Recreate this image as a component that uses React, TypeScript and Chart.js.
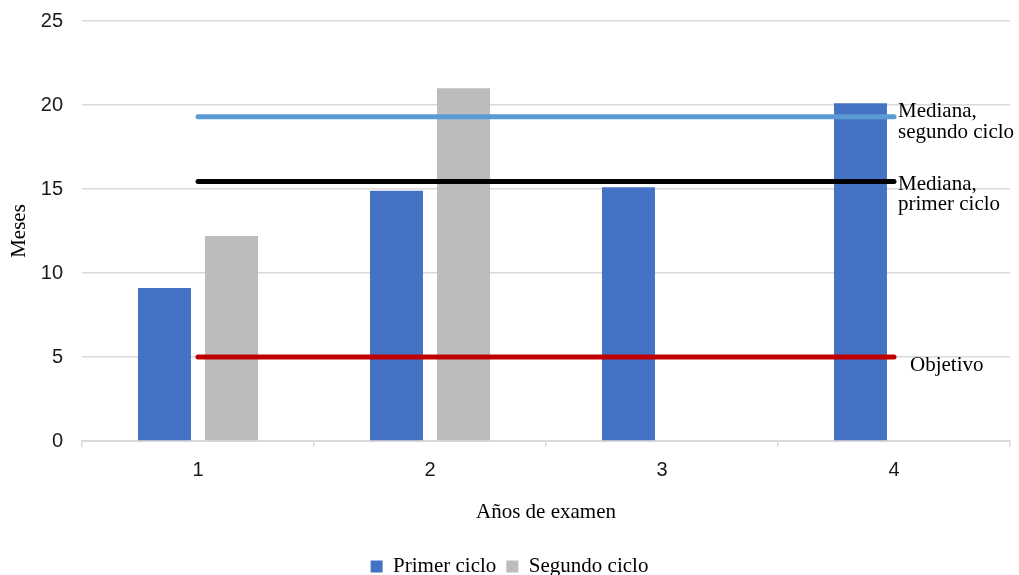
import React, { useEffect, useRef } from "react";
import { Chart, registerables } from "chart.js";

Chart.register(...registerables);

const categories = ["1", "2", "3", "4"];
const primerCiclo = [9.1, 14.9, 15.1, 20.1];
const segundoCiclo = [12.2, 21.0, null, null];
const medianaSegundo = [19.3, 19.3, 19.3, 19.3];
const medianaPrimer = [15.45, 15.45, 15.45, 15.45];
const objetivo = [5, 5, 5, 5];
const yTicks = [0, 5, 10, 15, 20, 25];

const lineLabels = [
  { dataset: 0, lines: ["Mediana,", "segundo ciclo"], dx: 4, dy: 0.5 },
  { dataset: 1, lines: ["Mediana,", "primer ciclo"], dx: 4, dy: 8.5 },
  { dataset: 2, lines: ["Objetivo"], dx: 16, dy: 13.7 },
];

const SERIF = '"Liberation Serif", "Times New Roman", serif';
const SANS = '"Liberation Sans", Arial, sans-serif';

const labelPlugin = {
  id: "lineLabels",
  afterDatasetsDraw(chart: any) {
    const { ctx } = chart;
    const xs = chart.scales.x;
    const ys = chart.scales.y;
    ctx.save();
    ctx.font = `21px ${SERIF}`;
    ctx.fillStyle = "#000";
    ctx.textAlign = "left";
    ctx.textBaseline = "alphabetic";
    lineLabels.forEach((l) => {
      const data = chart.data.datasets[l.dataset].data as number[];
      const last = data.length - 1;
      const x = xs.getPixelForValue(last) + l.dx;
      const y = ys.getPixelForValue(data[last]) + l.dy;
      l.lines.forEach((t, i) => ctx.fillText(t, x, y + i * 20.5));
    });
    ctx.restore();
  },
};

export default function App() {
  const ref = useRef<HTMLCanvasElement>(null);
  useEffect(() => {
    if (!ref.current) return;
    const lineDs = (label: string, data: number[], color: string) => ({
      type: "line" as const,
      label,
      data,
      borderColor: color,
      backgroundColor: color,
      borderWidth: 5,
      borderCapStyle: "round" as const,
      pointRadius: 0,
      fill: false,
      order: 0,
    });
    const chart = new Chart(ref.current, {
      type: "bar",
      data: {
        labels: categories,
        datasets: [
          lineDs("Mediana, segundo ciclo", medianaSegundo, "#5b9bd5") as any,
          lineDs("Mediana, primer ciclo", medianaPrimer, "#000000") as any,
          lineDs("Objetivo", objetivo, "#c00000") as any,
          {
            type: "bar",
            label: "Primer ciclo",
            data: primerCiclo,
            backgroundColor: "#4472c4",
            borderWidth: 0,
            categoryPercentage: 0.578,
            barPercentage: 0.79,
            order: 1,
          },
          {
            type: "bar",
            label: "Segundo ciclo",
            data: segundoCiclo as any,
            backgroundColor: "#bcbcbc",
            borderWidth: 0,
            categoryPercentage: 0.578,
            barPercentage: 0.79,
            order: 1,
          },
        ],
      },
      options: {
        responsive: false,
        animation: false,
        layout: { padding: { left: 9, top: 21, right: 9, bottom: 0 } },
        plugins: {
          tooltip: { enabled: false },
          legend: {
            position: "bottom",
            labels: {
              filter: (item: any) => item.datasetIndex >= 3,
              boxWidth: 12,
              boxHeight: 12,
              padding: 10,
              color: "#000",
              font: { family: SERIF, size: 21 },
            },
          },
        },
        scales: {
          x: {
            offset: true,
            afterFit: (s: any) => {
              s.height = 105;
              s.paddingLeft = 0;
              s.paddingRight = 0;
            },
            grid: {
              offset: true,
              drawOnChartArea: false,
              drawTicks: true,
              tickLength: 6,
              tickColor: "#d9d9d9",
              lineWidth: 1.5,
            },
            border: { display: true, color: "#d9d9d9", width: 2 },
            ticks: {
              padding: 11,
              color: "#1a1a1a",
              font: { family: SANS, size: 20 },
            },
            title: {
              display: true,
              text: "Años de examen",
              color: "#000",
              font: { family: SERIF, size: 21 },
              padding: { top: 0, bottom: 21 },
            },
          },
          y: {
            min: 0,
            max: 25,
            afterFit: (s: any) => {
              s.width = 73;
              s.paddingTop = 0;
              s.paddingBottom = 0;
            },
            afterBuildTicks: (s: any) => {
              s.ticks = yTicks.map((v) => ({ value: v }));
            },
            grid: {
              drawTicks: false,
              color: "#d9d9d9",
              lineWidth: 1.5,
            },
            border: { display: false },
            ticks: {
              padding: 19,
              color: "#1a1a1a",
              font: { family: SANS, size: 20 },
            },
            title: {
              display: true,
              text: "Meses",
              color: "#000",
              font: { family: SERIF, size: 21, lineHeight: 1 },
              padding: { top: 0, bottom: 0 },
            },
          },
        },
      },
      plugins: [labelPlugin],
    });
    return () => chart.destroy();
  }, []);

  return (
    <div
      style={{
        position: "fixed",
        left: 0,
        top: 0,
        width: 1019,
        height: 575,
        overflow: "hidden",
        background: "#fff",
      }}
    >
      <canvas ref={ref} width={1019} height={587} style={{ display: "block" }} />
    </div>
  );
}
